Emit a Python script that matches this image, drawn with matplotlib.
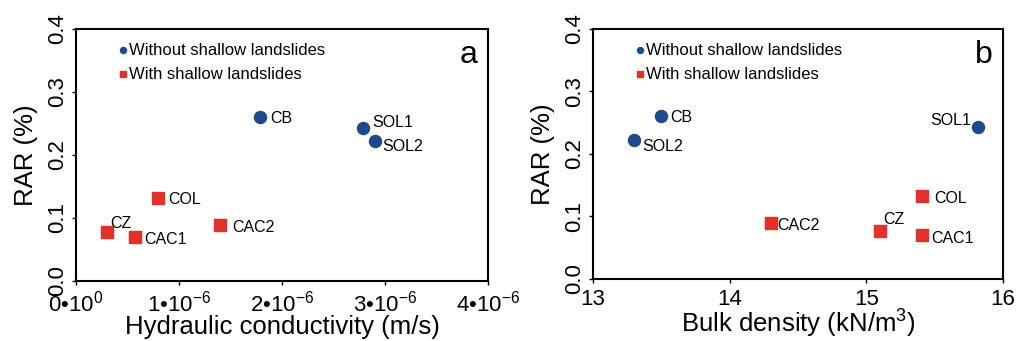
import numpy as np
import matplotlib
matplotlib.use("Agg")
import matplotlib.pyplot as plt

plt.rcParams['font.family'] = ['Liberation Sans', 'DejaVu Sans']
plt.rcParams['mathtext.fontset'] = 'custom'
plt.rcParams['mathtext.rm'] = 'Liberation Sans'
plt.rcParams['mathtext.it'] = 'Liberation Sans'
plt.rcParams['mathtext.default'] = 'regular'

# site names and values
sites_without = ['CB', 'SOL1', 'SOL2']
sites_with = ['CZ', 'CAC1', 'COL', 'CAC2']

# RAR (%)
rar_without = [0.261, 0.243, 0.222]
rar_with = [0.077, 0.070, 0.132, 0.089]

# hydraulic conductivity (m/s)
ks_without = [1.79e-6, 2.79e-6, 2.90e-6]
ks_with = [0.30e-6, 0.57e-6, 0.80e-6, 1.40e-6]

# bulk density (kN/m3)
bd_without = [13.50, 15.82, 13.30]
bd_with = [15.10, 15.41, 15.41, 14.30]

ks_ticks = [0, 1e-6, 2e-6, 3e-6, 4e-6]
ks_ticklabels = ['0•10$^{0}$', '1•10$^{-6}$', '2•10$^{-6}$', '3•10$^{-6}$', '4•10$^{-6}$']
bd_ticks = [13, 14, 15, 16]
rar_ticks = [0.0, 0.1, 0.2, 0.3, 0.4]

blue = '#1d4a8c'
red = '#e2302a'
TICK_FS = 16

# label offsets in pixels (dx, dy, ha)
off_a = {'CB': (10, -2, 'left'), 'SOL1': (9, 5, 'left'), 'SOL2': (8, -5, 'left'),
         'CZ': (3, 9, 'left'), 'CAC1': (10, -3, 'left'), 'COL': (10, -2, 'left'),
         'CAC2': (12, -3, 'left')}
off_b = {'CB': (9, -2, 'left'), 'SOL1': (-7, 7, 'right'), 'SOL2': (8, -6, 'left'),
         'CZ': (3, 11, 'left'), 'CAC1': (9, -3, 'left'), 'COL': (12, -2, 'left'),
         'CAC2': (7, -2, 'left')}

fig = plt.figure(figsize=(10.2, 3.41), dpi=100)
ax1 = fig.add_axes([0.0745, 0.176, 0.404, 0.739])
ax2 = fig.add_axes([0.5814, 0.182, 0.402, 0.733])


def panel(ax, xw, xs, offs, letter):
    ax.scatter(xw, rar_without, s=75, marker='o', color=blue, zorder=3,
               label='Without shallow landslides')
    ax.scatter(xs, rar_with, s=64, marker='s', color=red, zorder=3,
               label='With shallow landslides')
    for name, x, y in zip(sites_without, xw, rar_without):
        dx, dy, ha = offs[name]
        ax.annotate(name, (x, y), xytext=(dx, dy), textcoords='offset pixels',
                    ha=ha, va='center', fontsize=11.5)
    for name, x, y in zip(sites_with, xs, rar_with):
        dx, dy, ha = offs[name]
        ax.annotate(name, (x, y), xytext=(dx, dy), textcoords='offset pixels',
                    ha=ha, va='center', fontsize=11.5)
    ax.set_ylim(0, 0.4)
    ax.set_yticks(rar_ticks)
    ax.set_yticklabels(['%.1f' % t for t in rar_ticks], rotation=90, va='center',
                       fontsize=TICK_FS)
    ax.set_ylabel('RAR (%)', fontsize=18.5, labelpad=6)
    ax.tick_params(labelsize=TICK_FS, length=3, width=1, pad=3)
    ax.tick_params(axis='x', pad=4)
    for sp in ax.spines.values():
        sp.set_linewidth(1.5)
    ax.legend(loc='upper left', bbox_to_anchor=(0.088, 0.972), frameon=False,
              fontsize=12, markerscale=0.5, handlelength=0.5, handletextpad=0.1,
              labelspacing=0.55, borderaxespad=0)
    ax.text(0.975, 0.955, letter, transform=ax.transAxes, ha='right', va='top',
            fontsize=23)


panel(ax1, ks_without, ks_with, off_a, 'a')
ax1.set_xlim(0, 4e-6)
ax1.set_xticks(ks_ticks)
ax1.set_xticklabels(ks_ticklabels, fontsize=TICK_FS)
ax1.set_xlabel('Hydraulic conductivity (m/s)', fontsize=18.5, labelpad=-1)

panel(ax2, bd_without, bd_with, off_b, 'b')
ax2.set_xlim(13, 16)
ax2.set_xticks(bd_ticks)
ax2.set_xlabel('Bulk density (kN/m$^{3}$)', fontsize=18.5, labelpad=-1)

fig.savefig('out.png', dpi=100)
